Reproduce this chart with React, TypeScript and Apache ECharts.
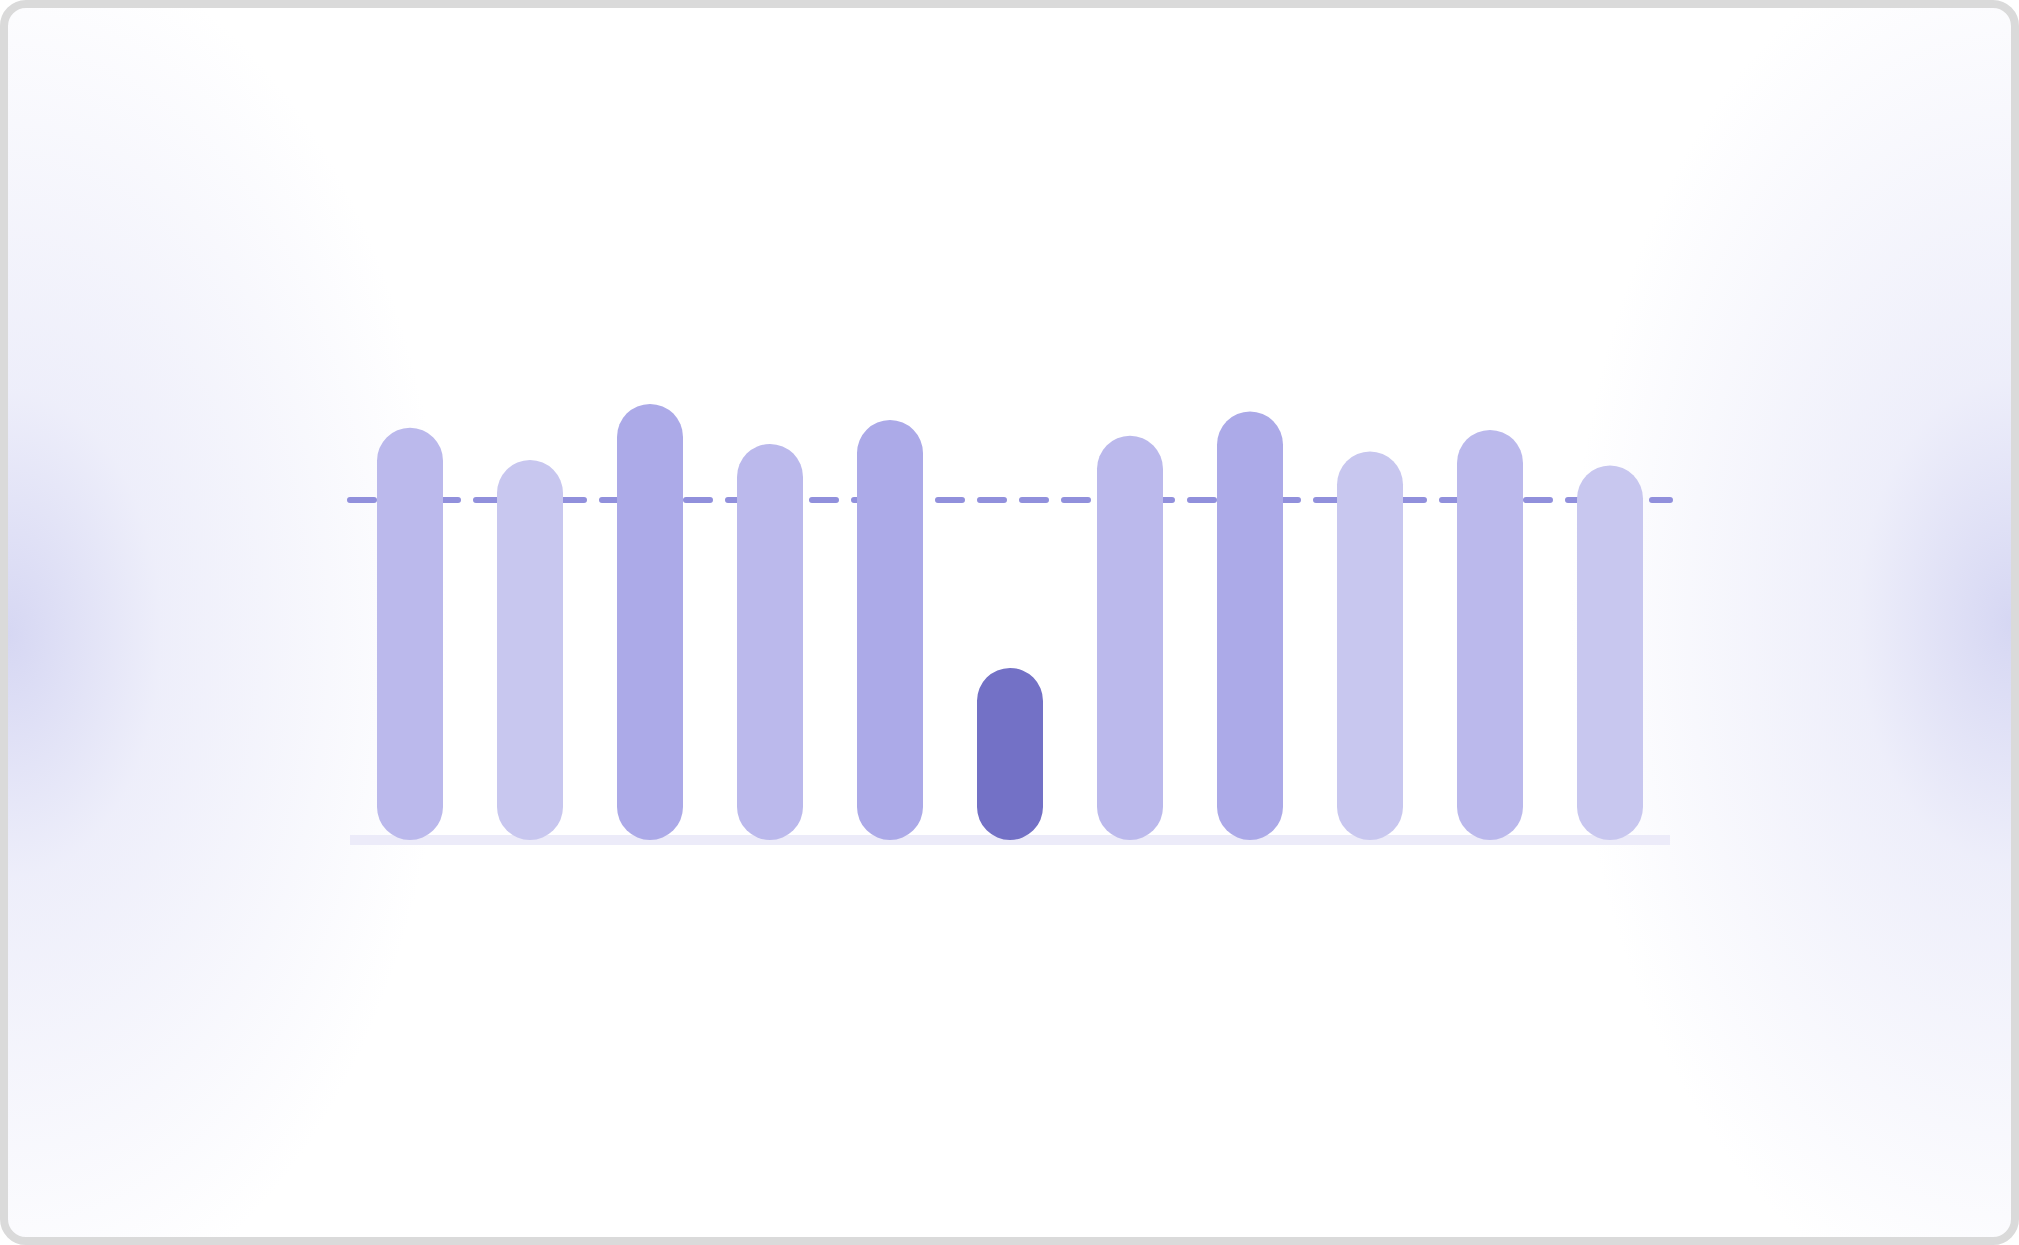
import React, { useEffect, useRef } from 'react';
import * as echarts from 'echarts';

const categories = ['W1', 'W2', 'W3', 'W4', 'W5', 'W6', 'W7', 'W8', 'W9', 'W10', 'W11'];
const values = [97, 89.4, 102.6, 93.2, 98.8, 40.5, 95.1, 100.8, 91.4, 96.5, 88.1];
const target = 80;
const yMax = 120;

// bar tint by value tier
const colorFor = (v: number) => {
  if (v < target) return '#7371c6';
  if (v >= 98) return '#acaae8';
  if (v >= 92) return '#bbb9ec';
  return '#c8c7ef';
};

const App: React.FC = () => {
  const chartRef = useRef<HTMLDivElement>(null);

  useEffect(() => {
    document.body.style.margin = '0';
    if (!chartRef.current) return;

    const chart = echarts.init(chartRef.current, undefined, { renderer: 'svg' });

    chart.setOption({
      animation: false,
      grid: {
        left: 350,
        right: 349,
        top: 330,
        bottom: 405,
        containLabel: false
      },
      xAxis: {
        type: 'category',
        data: categories,
        axisLine: {
          show: true,
          lineStyle: { color: '#ecebf9', width: 10, cap: 'butt' }
        },
        axisTick: { show: false },
        axisLabel: { show: false },
        splitLine: { show: false }
      },
      yAxis: {
        type: 'value',
        min: 0,
        max: yMax,
        show: false,
        splitLine: { show: false }
      },
      series: [
        {
          // holds the dashed target line, kept under the bars
          type: 'line',
          data: [],
          z: 1,
          silent: true,
          markLine: {
            z: 1,
            silent: true,
            symbol: 'none',
            label: { show: false },
            lineStyle: {
              color: '#9190dc',
              width: 6,
              type: [24, 18],
              cap: 'round'
            },
            data: [{ yAxis: target }]
          }
        },
        {
          type: 'bar',
          z: 10,
          barWidth: 66,
          data: values.map((v) => ({
            value: v,
            itemStyle: { color: colorFor(v) }
          })),
          itemStyle: { borderRadius: 33 }
        }
      ]
    });

    const handleResize = () => chart.resize();
    window.addEventListener('resize', handleResize);

    return () => {
      chart.dispose();
      window.removeEventListener('resize', handleResize);
    };
  }, []);

  return (
    <div style={{ position: 'relative', width: 2019, height: 1245, background: '#ffffff', overflow: 'hidden' }}>
      <div
        style={{
          position: 'absolute',
          inset: 0,
          boxSizing: 'border-box',
          border: '8px solid #dadada',
          borderRadius: 26,
          background:
            'radial-gradient(ellipse 440px 700px at 0% 51%, rgba(214,215,243,1) 0%, rgba(226,227,247,0.6) 35%, rgba(255,255,255,0) 100%),' +
            'radial-gradient(ellipse 440px 700px at 100% 50%, rgba(214,215,243,1) 0%, rgba(226,227,247,0.6) 35%, rgba(255,255,255,0) 100%),' +
            '#ffffff'
        }}
      />
      <div ref={chartRef} style={{ position: 'absolute', left: 0, top: 0, width: 2019, height: 1245 }} />
    </div>
  );
};

export default App;
